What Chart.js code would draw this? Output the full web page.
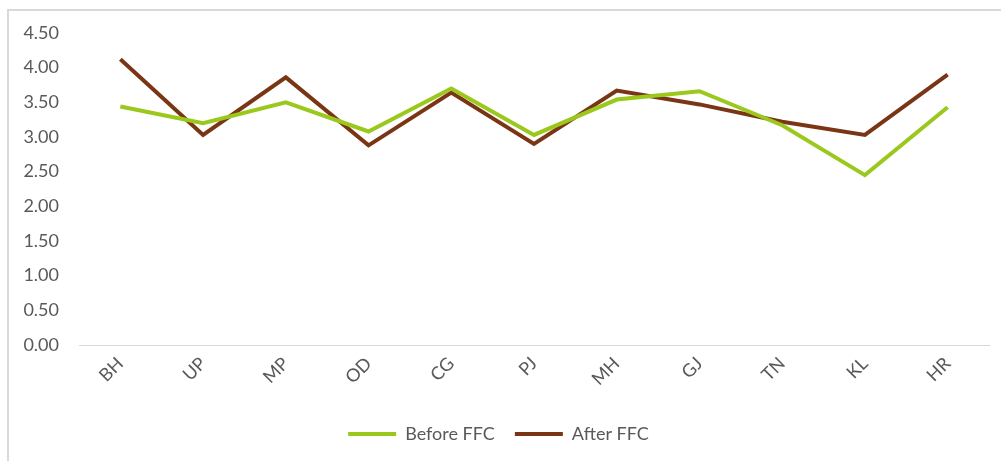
<!DOCTYPE html>
<html lang="en">
<head>
  <meta charset="UTF-8">
  <title>Before / After FFC</title>
  <script src="https://cdn.jsdelivr.net/npm/chart.js"></script>
  <style>
    body {
      margin: 0;
      background: #ffffff;
      width: 1001px;
      height: 461px;
      overflow: hidden;
      position: relative;
    }
    .frame {
      position: absolute;
      left: 7px;
      top: 9px;
      width: 1000px;
      height: 460px;
      border-left: 2px solid #d9d9d9;
      border-top: 2px solid #d9d9d9;
    }
    .chart-box {
      position: absolute;
      left: 8px;
      top: 10px;
      width: 993px;
      height: 451px;
    }
  </style>
</head>
<body>
  <div class="frame"></div>
  <div class="chart-box">
    <canvas id="ffcChart"></canvas>
  </div>

  <script>
    const categories = ['BH', 'UP', 'MP', 'OD', 'CG', 'PJ', 'MH', 'GJ', 'TN', 'KL', 'HR'];
    const beforeFFC = [3.44, 3.20, 3.50, 3.08, 3.70, 3.03, 3.54, 3.66, 3.17, 2.45, 3.43];
    const afterFFC = [4.12, 3.03, 3.86, 2.88, 3.64, 2.90, 3.67, 3.47, 3.22, 3.03, 3.90];
    const yTicks = [0, 0.5, 1, 1.5, 2, 2.5, 3, 3.5, 4, 4.5];

    const textColor = '#595959';
    const font = { family: 'Lato', size: 18 };

    const ctx = document.getElementById('ffcChart').getContext('2d');

    new Chart(ctx, {
      type: 'line',
      data: {
        labels: categories,
        datasets: [{
          label: 'Before FFC',
          data: beforeFFC,
          borderColor: '#9bc81c',
          backgroundColor: '#9bc81c',
          borderWidth: 4,
          pointRadius: 0,
          tension: 0
        }, {
          label: 'After FFC',
          data: afterFFC,
          borderColor: '#7a3514',
          backgroundColor: '#7a3514',
          borderWidth: 4,
          pointRadius: 0,
          tension: 0
        }]
      },
      options: {
        responsive: true,
        maintainAspectRatio: false,
        animation: false,
        layout: {
          padding: { left: 0, right: 12, top: 23, bottom: 8 }
        },
        plugins: {
          legend: {
            display: true,
            position: 'bottom',
            labels: {
              color: textColor,
              font: font,
              boxWidth: 48,
              boxHeight: 4,
              padding: 20,
              generateLabels: (chart) => {
                const items = Chart.defaults.plugins.legend.labels.generateLabels(chart);
                items.forEach(item => { item.lineWidth = 0; });
                return items;
              }
            }
          },
          tooltip: { enabled: false }
        },
        scales: {
          x: {
            offset: true,
            grid: { display: false, drawTicks: false },
            border: { display: true, color: '#d9d9d9', width: 1 },
            ticks: {
              color: textColor,
              font: font,
              minRotation: 45,
              maxRotation: 45,
              padding: 8
            },
            afterFit: (scale) => { scale.height = 60; }
          },
          y: {
            min: 0,
            max: 4.5,
            grid: { display: false, drawTicks: false },
            border: { display: false },
            afterBuildTicks: (scale) => {
              scale.ticks = yTicks.map(v => ({ value: v }));
            },
            ticks: {
              color: textColor,
              font: font,
              padding: 20,
              callback: (value) => Number(value).toFixed(2)
            },
            afterFit: (scale) => {
              scale.width = 71;
              scale.paddingTop = 10;
              scale.paddingBottom = 10;
            }
          }
        }
      }
    });
  </script>
</body>
</html>
